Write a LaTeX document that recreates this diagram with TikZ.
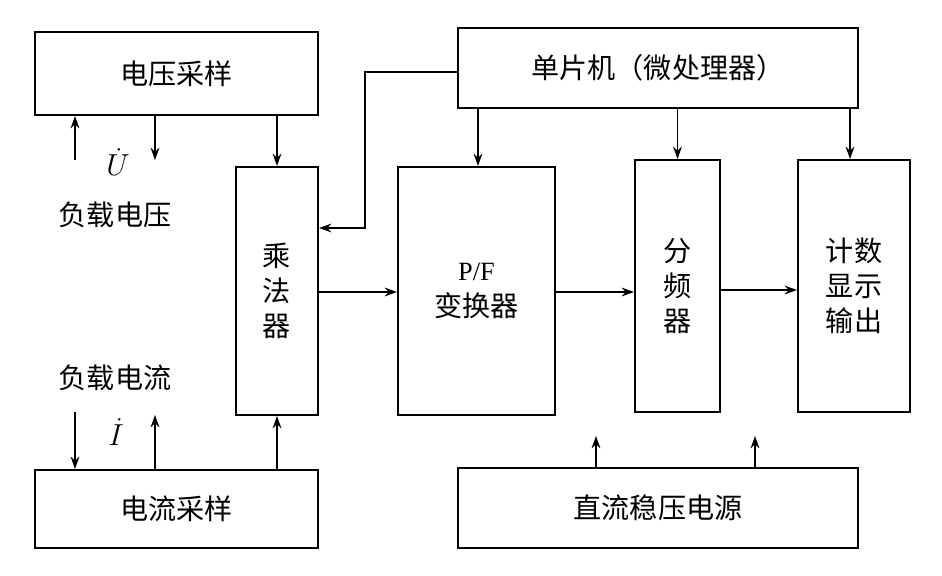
\documentclass[tikz,border=0pt]{standalone}
\usepackage{fontspec}
\setmainfont{Liberation Serif}
\newfontfamily\cjk[BoldFont={Noto Sans CJK SC Bold}]{Noto Sans CJK SC}
\usetikzlibrary{arrows.meta}
\begin{document}
\begin{tikzpicture}[x=0.02cm,y=-0.02cm,
  box/.style={draw,line width=1.2pt,inner sep=0pt,font=\cjk\fontsize{16}{20}\selectfont,align=center},
  arr/.style={line width=0.9pt,-{Stealth[length=7pt,width=5pt]}},
  lbl/.style={font=\cjk\fontsize{16}{20}\selectfont}]
\useasboundingbox (0,0) rectangle (942,575);
\fill[white] (0,0) rectangle (942,575);
\node[box,minimum width=5.66cm,minimum height=1.66cm] (vs) at (176.5,73.5) {电压采样};
\node[box,minimum width=8cm,minimum height=1.6cm] (mcu) at (658,68) {单片机（微处理器）};
\node[box,minimum width=1.64cm,minimum height=4.96cm] (mul) at (277,291) {乘\\法\\器};
\node[box,minimum width=3.14cm,minimum height=4.96cm] (pf) at (476.5,291) {{\rmfamily\fontsize{15}{20}\selectfont P/F}\\变换器};
\node[box,minimum width=1.7cm,minimum height=5.04cm] (div) at (677.5,286) {分\\频\\器};
\node[box,minimum width=2.24cm,minimum height=5.04cm] (cnt) at (854,286) {计数\\显示\\输出};
\node[box,minimum width=5.66cm,minimum height=1.56cm] (is) at (176.5,509) {电流采样};
\node[box,minimum width=8cm,minimum height=1.6cm] (ps) at (658,508) {直流稳压电源};
\draw[arr] (vs.south -| mul) -- (mul.north);
\draw[arr] (is.north -| mul) -- (mul.south);
\draw[arr] (mcu.west |- 0,72) -- (365,72) -- (365,228) -- (mul.east |- 0,228);
\draw[arr] (mcu.south -| 478,0) -- (pf.north -| 478,0);
\draw[arr] (mcu.south -| div) -- (div.north);
\draw[arr] (mcu.south -| 850,0) -- (cnt.north -| 850,0);
\draw[arr] (mul.east |- 0,292) -- (pf.west |- 0,292);
\draw[arr] (pf.east |- 0,292) -- (div.west |- 0,292);
\draw[arr] (div.east |- 0,290) -- (cnt.west |- 0,290);
\coordinate (g1) at (596,436); \coordinate (g2) at (755,436);
\draw[arr] (ps.north -| g1) -- (g1);
\draw[arr] (ps.north -| g2) -- (g2);
\coordinate (u1) at (75,160); \coordinate (u2) at (155,160);
\draw[arr] (u1) -- (vs.south -| u1);
\draw[arr] (vs.south -| u2) -- (u2);
\node[inner sep=0pt] (U) at (118,162) {\fontsize{17}{20}\selectfont$\dot{U}$};
\node[lbl] (lv) at (115,215) {负载电压};
\node[lbl] (li) at (115,378) {负载电流};
\coordinate (i1) at (75,412); \coordinate (i2) at (155,415);
\draw[arr] (i1) -- (is.north -| i1);
\draw[arr] (is.north -| i2) -- (i2);
\node[inner sep=0pt] (I) at (116,432) {\fontsize{17}{20}\selectfont$\dot{I}$};
\end{tikzpicture}
\end{document}
